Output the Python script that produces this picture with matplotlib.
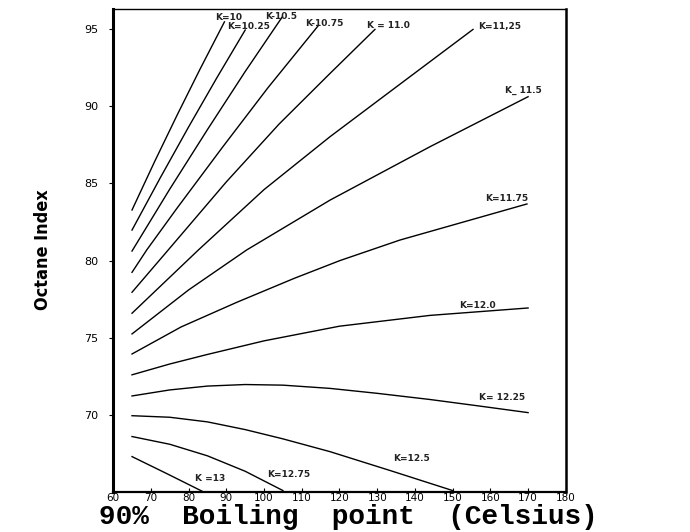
import matplotlib
matplotlib.use('Agg')
import matplotlib.pyplot as plt
from matplotlib import font_manager

# octane index vs 90% boiling point, one curve per K factor
k10_x = [65, 71, 77, 83, 89.5]
k10_y = [83.28, 86.42, 89.45, 92.39, 95.47]
k1025_x = [65, 72.5, 80, 87.5, 95]
k1025_y = [81.98, 85.37, 88.66, 91.85, 94.94]
k105_x = [65, 75, 85, 95, 104.8]
k105_y = [80.62, 84.63, 88.49, 92.25, 95.78]
k1075_x = [65, 68.9, 77, 89, 101, 114.3]
k1075_y = [79.24, 80.69, 83.42, 87.35, 91.19, 95.2]
k11_x = [65, 74.6, 90, 104, 117.5, 129.4]
k11_y = [77.95, 80.69, 85.1, 88.85, 92.13, 94.98]
k1125_x = [65, 82.6, 100, 117.5, 135.1, 155.4]
k1125_y = [76.59, 80.69, 84.6, 88.03, 91.26, 94.98]
k115_x = [65, 80, 95.4, 117.5, 144, 170]
k115_y = [75.25, 78.1, 80.69, 83.92, 87.38, 90.62]
k1175_x = [65, 78, 92.8, 108, 120.1, 136, 169.7]
k1175_y = [73.95, 75.7, 77.3, 78.85, 80.0, 81.33, 83.67]
k12_x = [65, 75, 85, 100, 120, 144, 170]
k12_y = [72.6, 73.3, 73.92, 74.8, 75.75, 76.45, 76.93]
k1225_x = [65, 75, 85, 95, 105, 117.5, 130, 144, 157, 170]
k1225_y = [71.23, 71.62, 71.87, 71.97, 71.93, 71.72, 71.4, 71.0, 70.58, 70.15]
k125_x = [65, 75, 85, 95, 105, 117.5, 133.4, 150]
k125_y = [69.95, 69.85, 69.55, 69.05, 68.45, 67.62, 66.4, 65.1]
k1275_x = [65, 75, 85, 95, 105]
k1275_y = [68.6, 68.1, 67.35, 66.35, 65.1]
k13_x = [65, 74.2, 83.8]
k13_y = [67.3, 66.2, 65.03]

curves = [(k10_x, k10_y), (k1025_x, k1025_y), (k105_x, k105_y),
          (k1075_x, k1075_y), (k11_x, k11_y), (k1125_x, k1125_y),
          (k115_x, k115_y), (k1175_x, k1175_y), (k12_x, k12_y),
          (k1225_x, k1225_y), (k125_x, k125_y), (k1275_x, k1275_y),
          (k13_x, k13_y)]

k_labels = ['K=10', 'K=10.25', 'K-10.5', 'K-10.75', 'K = 11.0', 'K=11,25',
            'K_ 11.5', 'K=11.75', 'K=12.0', 'K= 12.25', 'K=12.5', 'K=12.75',
            'K =13']
# where each label sits (data coords, left edge / vertical centre)
label_pos = [(87.0, 95.78), (90.2, 95.19), (100.3, 95.84), (110.9, 95.39),
             (127.3, 95.26), (156.7, 95.19), (163.8, 91.05), (158.5, 84.05),
             (151.7, 77.09), (157.0, 71.1), (134.2, 67.15), (100.8, 66.11),
             (81.7, 65.85)]

x_ticks = [60, 70, 80, 90, 100, 110, 120, 130, 140, 150, 160, 170, 180]
y_ticks = [70, 75, 80, 85, 90, 95]

fig = plt.figure(figsize=(6.9, 5.32), dpi=100)
ax = fig.add_axes([0.164, 0.075, 0.656, 0.908])

for xs, ys in curves:
    ax.plot(xs, ys, color='black', lw=1.0)

for lab, (lx, ly) in zip(k_labels, label_pos):
    ax.text(lx, ly, lab, fontsize=6.5, ha='left', va='center',
            fontweight='bold', color='#222222')

ax.set_xlim(60, 180)
ax.set_ylim(65, 96.3)
ax.set_xticks(x_ticks)
ax.set_yticks(y_ticks)
ax.tick_params(axis='x', direction='in', length=3, pad=1, labelsize=7.5)
ax.tick_params(axis='y', direction='out', length=3, pad=8, labelsize=8)

ax.spines['left'].set_linewidth(2.2)
ax.spines['bottom'].set_linewidth(1.6)
ax.spines['right'].set_linewidth(1.8)
ax.spines['top'].set_linewidth(1.0)

# narrow bold face for the y title if one is around
names = {f.name for f in font_manager.fontManager.ttflist}
if 'Liberation Sans Narrow' in names:
    ylab_font = dict(family='Liberation Sans Narrow', fontsize=16)
else:
    ylab_font = dict(family='DejaVu Sans', fontstretch='condensed', fontsize=13)
fig.text(43 / 690, 1 - 250 / 532, 'Octane Index', rotation=90,
         ha='center', va='center', fontweight='bold', **ylab_font)
fig.text(348 / 690, 1 - 517 / 532, '90%  Boiling  point  (Celsius)',
         ha='center', va='center', fontsize=20, fontweight='bold',
         family=['Liberation Mono', 'DejaVu Sans Mono'])

plt.savefig('out.png', dpi=100)
